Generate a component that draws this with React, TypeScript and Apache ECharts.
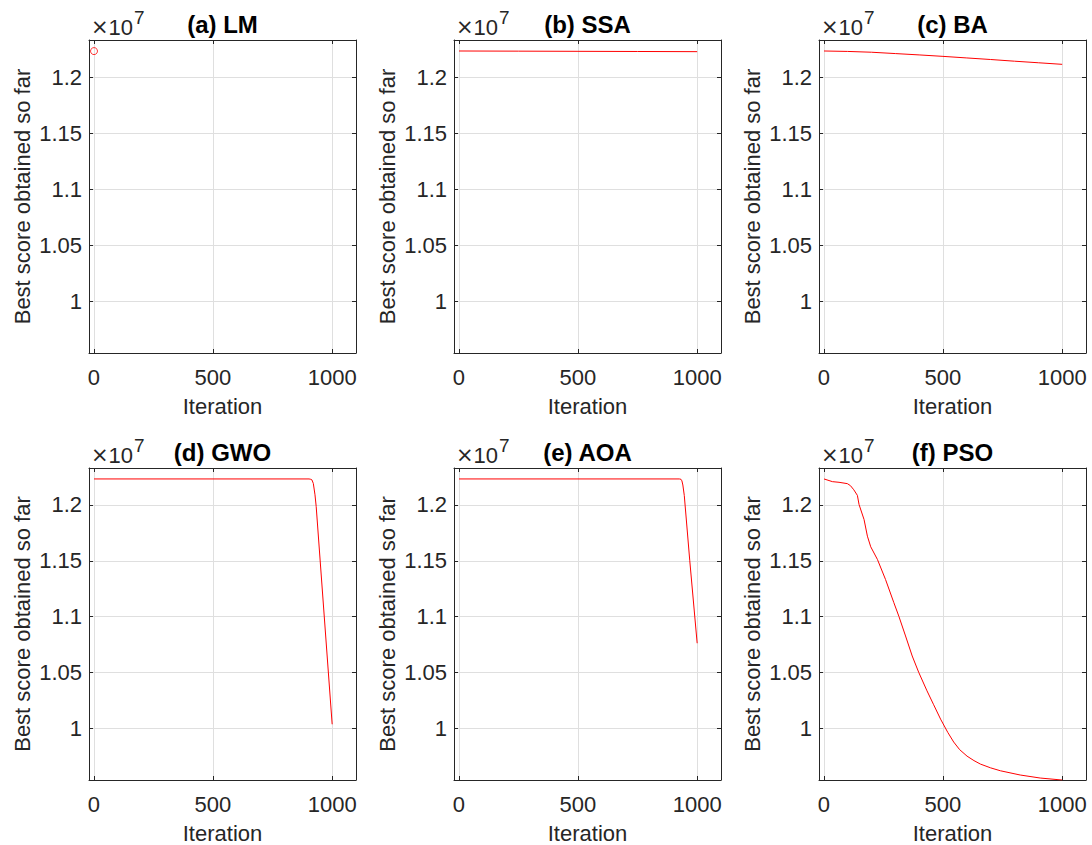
import React, { useEffect, useRef } from "react";
import * as echarts from "echarts";

// ---- data ----
const panelTitles = ["(a) LM", "(b) SSA", "(c) BA", "(d) GWO", "(e) AOA", "(f) PSO"];
const xTicks = [0, 500, 1000];
const yTicks = [1.0e7, 1.05e7, 1.1e7, 1.15e7, 1.2e7];
const xMin = -20;
const xMax = 1100;
const yMin = 0.95384e7;
const yMax = 1.233e7;

const lmIter = [1];
const lmScore = [1.2231e7];

const ssaIter = [1, 250, 500, 750, 1000];
const ssaScore = [1.2232e7, 1.22305e7, 1.2229e7, 1.22275e7, 1.2226e7];

const baIter = [1, 100, 200, 300, 400, 500, 600, 700, 800, 900, 1000];
const baScore = [1.2232e7, 1.2228e7, 1.2221e7, 1.2209e7, 1.2197e7, 1.2184e7, 1.217e7, 1.2156e7, 1.2141e7, 1.2127e7, 1.2113e7];

const gwoIter = [1, 903, 910, 915, 921, 928, 933, 1000];
const gwoScore = [1.2232e7, 1.2232e7, 1.2229e7, 1.2224e7, 1.2192e7, 1.209e7, 1.1985e7, 1.0037e7];

const aoaIter = [1, 925, 932, 936, 940, 946, 969, 1000];
const aoaScore = [1.2232e7, 1.2232e7, 1.2229e7, 1.2215e7, 1.2178e7, 1.2084e7, 1.15e7, 1.0762e7];

const psoIter = [1, 36, 64, 99, 112, 126, 141, 148, 169, 183, 197, 225, 259, 294, 315, 343, 371, 398, 433, 460, 490, 520, 545, 570, 601, 630, 657, 700, 741, 824, 908, 1000];
const psoScore = [
  1.2232e7, 1.2208e7, 1.2202e7, 1.219e7, 1.2172e7, 1.2135e7, 1.2085e7, 1.2003e7, 1.1869e7, 1.172e7, 1.1625e7,
  1.1512e7, 1.1333e7, 1.1125e7, 1.1003e7, 1.0827e7, 1.0648e7, 1.0503e7, 1.0336e7, 1.0216e7, 1.0083e7,
  0.9965e7, 0.9878e7, 0.981e7, 0.9752e7, 0.9712e7, 0.9681e7, 0.9647e7, 0.9621e7, 0.9583e7, 0.9556e7, 0.9538e7,
];

const seriesIters = [lmIter, ssaIter, baIter, gwoIter, aoaIter, psoIter];
const seriesScores = [lmScore, ssaScore, baScore, gwoScore, aoaScore, psoScore];

// ---- layout / style ----
const FONT = '"Liberation Sans", Arial, Helvetica, sans-serif';
const AX = "#262626";
const GRIDC = "#dfdfdf";
const RED = "#ff0000";
const colLeft = [89, 454, 819];
const rowTop = [40, 468];
const W = 267;
const H = 313;

function buildOption() {
  const grid: any[] = [];
  const xAxis: any[] = [];
  const yAxis: any[] = [];
  const series: any[] = [];
  const graphic: any[] = [];

  for (let i = 0; i < 6; i++) {
    const left = colLeft[i % 3];
    const top = rowTop[Math.floor(i / 3)];
    grid.push({ left, top, width: W, height: H, containLabel: false });

    const tickCommon = { show: true, inside: true, length: 4, lineStyle: { color: AX, width: 1 } };
    const lineCommon = { show: true, onZero: false, lineStyle: { color: AX, width: 1 } };

    xAxis.push({
      type: "value",
      gridIndex: i,
      min: xMin,
      max: xMax,
      position: "bottom",
      axisLine: lineCommon,
      axisTick: { ...tickCommon, customValues: xTicks },
      axisLabel: {
        show: true,
        customValues: xTicks,
        fontSize: 22,
        color: AX,
        fontFamily: FONT,
        margin: 13,
        formatter: (v: number) => String(v),
      },
      splitLine: { show: true, lineStyle: { color: GRIDC, width: 1 } },
      name: "Iteration",
      nameLocation: "middle",
      nameGap: 42,
      nameTextStyle: { fontSize: 22, color: AX, fontFamily: FONT },
    });
    xAxis.push({
      type: "value",
      gridIndex: i,
      min: xMin,
      max: xMax,
      position: "top",
      axisLine: lineCommon,
      axisTick: { ...tickCommon, customValues: xTicks },
      axisLabel: { show: false },
      splitLine: { show: false },
    });

    yAxis.push({
      type: "value",
      gridIndex: i,
      min: yMin,
      max: yMax,
      position: "left",
      axisLine: lineCommon,
      axisTick: { ...tickCommon, customValues: yTicks },
      axisLabel: {
        show: true,
        customValues: yTicks,
        fontSize: 22,
        color: AX,
        fontFamily: FONT,
        margin: 7,
        formatter: (v: number) => String(+(v / 1e7).toFixed(2)),
      },
      splitLine: { show: true, lineStyle: { color: GRIDC, width: 1 } },
      name: "Best score obtained so far",
      nameLocation: "middle",
      nameGap: 56,
      nameRotate: 90,
      nameTextStyle: { fontSize: 22, color: AX, fontFamily: FONT },
    });
    yAxis.push({
      type: "value",
      gridIndex: i,
      min: yMin,
      max: yMax,
      position: "right",
      axisLine: lineCommon,
      axisTick: { ...tickCommon, customValues: yTicks },
      axisLabel: { show: false },
      splitLine: { show: false },
    });

    const data = seriesIters[i].map((x, k) => [x, seriesScores[i][k]]);
    if (i === 0) {
      series.push({
        type: "scatter",
        xAxisIndex: 2 * i,
        yAxisIndex: 2 * i,
        data,
        symbol: "circle",
        symbolSize: 7,
        itemStyle: { color: "rgba(0,0,0,0)", borderColor: RED, borderWidth: 1 },
        z: 3,
      });
    } else {
      series.push({
        type: "line",
        xAxisIndex: 2 * i,
        yAxisIndex: 2 * i,
        data,
        showSymbol: false,
        symbol: "none",
        lineStyle: { color: RED, width: 1 },
        z: 3,
      });
    }

    graphic.push({
      type: "text",
      x: left + W / 2,
      y: top - 16,
      style: {
        text: panelTitles[i],
        fontSize: 24,
        fontWeight: "bold",
        fontFamily: FONT,
        fill: "#000",
        align: "center",
        verticalAlign: "middle",
      },
    });
    graphic.push({
      type: "text",
      x: left + 2,
      y: top - 13,
      style: {
        text: "{x|×}{n|10}",
        align: "left",
        verticalAlign: "middle",
        rich: {
          x: { fontSize: 21, fontFamily: '"DejaVu Sans", sans-serif', fill: AX, verticalAlign: "middle" },
          n: { fontSize: 22, fontFamily: FONT, fill: AX, verticalAlign: "middle" },
        },
      },
    });
    graphic.push({
      type: "text",
      x: left + 45,
      y: top - 23,
      style: {
        text: "7",
        fontSize: 19,
        fontFamily: FONT,
        fill: AX,
        align: "left",
        verticalAlign: "middle",
      },
    });
  }

  return {
    animation: false,
    backgroundColor: "#ffffff",
    grid,
    xAxis,
    yAxis,
    series,
    graphic,
  };
}

export default function App() {
  const ref = useRef<HTMLDivElement>(null);
  useEffect(() => {
    if (!ref.current) return;
    const chart = echarts.init(ref.current, undefined, { renderer: "svg" });
    chart.setOption(buildOption() as any);
    return () => chart.dispose();
  }, []);
  return (
    <div
      ref={ref}
      style={{ position: "absolute", left: 0, top: 0, width: 1092, height: 845, background: "#fff" }}
    />
  );
}
